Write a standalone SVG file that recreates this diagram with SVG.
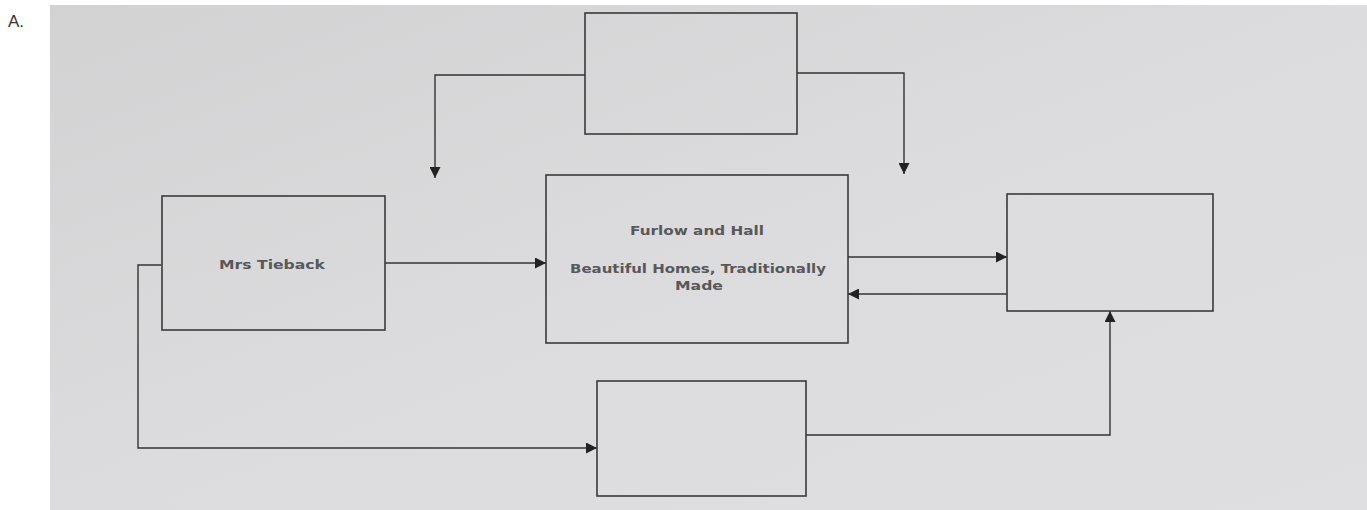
<svg xmlns="http://www.w3.org/2000/svg" width="1367" height="510" viewBox="0 0 1367 510">
<style>
.box{fill:none;stroke:#3a3a3a;stroke-width:1.6}
.ln{fill:none;stroke:#333;stroke-width:1.4;marker-end:url(#ah)}
.t{font-family:"DejaVu Sans","Liberation Sans",Arial,sans-serif;font-size:12.5px;font-weight:bold;fill:#58585a;text-anchor:middle}
</style>
<defs>
<marker id="ah" viewBox="0 0 10 10" refX="10" refY="5" markerWidth="13" markerHeight="11" markerUnits="userSpaceOnUse" orient="auto">
<path d="M0,0 L10,5 L0,10 Z" fill="#222"/>
</marker>
<linearGradient id="bg" x1="0" y1="0" x2="1" y2="1">
<stop offset="0" stop-color="#d2d2d3"/>
<stop offset="0.5" stop-color="#dcdcde"/>
<stop offset="1" stop-color="#dfdfe1"/>
</linearGradient>
</defs>
<rect x="0" y="0" width="1367" height="510" fill="#ffffff"/>
<rect x="50" y="5" width="1317" height="505" fill="url(#bg)"/>
<text x="8" y="27" font-family="Liberation Sans,Arial,sans-serif" font-size="17" fill="#333">A.</text>
<g id="connectors">
<path class="ln" d="M585,75 H435 V178"/>
<path class="ln" d="M797,73 H904 V174"/>
<path class="ln" d="M385,263 H546"/>
<path class="ln" d="M848,257 H1007"/>
<path class="ln" d="M1007,294 H848"/>
<path class="ln" d="M161,265 H138 V448 H597"/>
<path class="ln" d="M806,435 H1110 V311"/>
</g>
<g id="top"><rect class="box" x="585" y="13" width="212" height="121"/></g>
<g id="furlow"><rect class="box" x="546" y="175" width="302" height="168"/>
<text class="t" x="697" y="235" textLength="134" lengthAdjust="spacingAndGlyphs">Furlow and Hall</text>
<text class="t" x="698" y="273" textLength="256" lengthAdjust="spacingAndGlyphs">Beautiful Homes, Traditionally</text>
<text class="t" x="699" y="290" textLength="48" lengthAdjust="spacingAndGlyphs">Made</text></g>
<g id="tieback"><rect class="box" x="162" y="196" width="223" height="134"/>
<text class="t" x="272" y="269" textLength="106" lengthAdjust="spacingAndGlyphs">Mrs Tieback</text></g>
<g id="right"><rect class="box" x="1007" y="194" width="206" height="117"/></g>
<g id="bottom"><rect class="box" x="597" y="381" width="209" height="115"/></g>
</svg>
